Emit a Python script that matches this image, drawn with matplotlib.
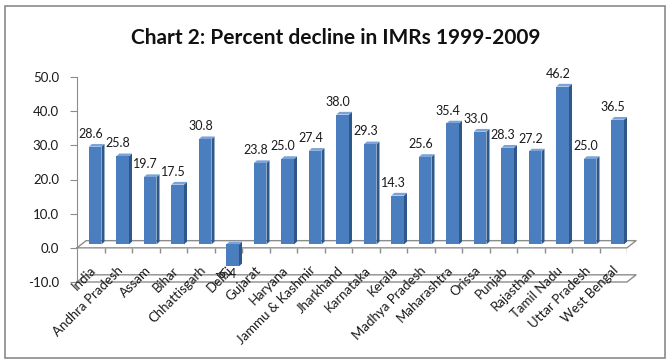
import matplotlib
matplotlib.use("Agg")
import matplotlib.pyplot as plt
from matplotlib.patches import Polygon, Rectangle

states = ["India", "Andhra Pradesh", "Assam", "Bihar", "Chhattisgarh", "Delhi",
          "Gujarat", "Haryana", "Jammu & Kashmir", "Jharkhand", "Karnataka",
          "Kerala", "Madhya Pradesh", "Maharashtra", "Orissa", "Punjab",
          "Rajasthan", "Tamil Nadu", "Uttar Pradesh", "West Bengal"]
decline = [28.6, 25.8, 19.7, 17.5, 30.8, -6.4, 23.8, 25.0, 27.4, 38.0, 29.3,
           14.3, 25.6, 35.4, 33.0, 28.3, 27.2, 46.2, 25.0, 36.5]
yticks = [-10, 0, 10, 20, 30, 40, 50]

FONT = "Lato"
FRONT, SIDE, TOP = "#4A7EBF", "#2D5889", "#7AA3D9"
GRID = "#8C8C8C"

# fake 3d: depth of the plane and of the bars (x in categories, y in data units)
DX, DY = 0.33, 2.1
BX, BY = 0.16, 1.0
BW = 0.46
SDX, SDY = 0.11, 0.8

fig = plt.figure(figsize=(6.72, 3.64), dpi=100)
fig.patches.append(Rectangle((5 / 672, 6 / 364), 660 / 672, 352 / 364,
                             transform=fig.transFigure, fill=False,
                             ec="#8A8A8A", lw=1.2))
fig.text(0.5, 1 - 38 / 364, "Chart 2: Percent decline in IMRs 1999-2009",
         ha="center", va="center", fontsize=15, fontweight="bold",
         family=FONT, color="#111111")

ax = fig.add_axes([77 / 672, 1 - 282 / 364, 550 / 672, 205 / 364])
n = len(states)
ax.set_xlim(-0.5, n - 0.5)
ax.set_ylim(-10, 50)
for s in ["top", "right", "bottom"]:
    ax.spines[s].set_visible(False)
ax.spines["left"].set_color(GRID)
ax.set_yticks(yticks)
ax.set_yticklabels([f"{t:.1f}" for t in yticks], family=FONT, fontsize=9.5,
                   color="#1a1a1a")
ax.tick_params(axis="y", length=5, color=GRID, pad=8)
ax.set_xticks([])

# 0 plane and floor
x0, x1 = -0.5, n - 0.5
for base in (0, -10):
    ax.plot([x0, x1, x1 + DX, x0 + DX, x0], [base, base, base + DY, base + DY, base],
            color=GRID, lw=1, clip_on=False, zorder=1)
ax.vlines([k + 0.5 for k in range(n)], -1.5, 0, color=GRID, lw=1, zorder=1)

# bars
xs = [i + BX for i in range(n)]
bars = ax.bar(xs, decline, width=BW, bottom=BY, color=FRONT, zorder=3)
for b in bars:
    bx0, by0 = b.get_x(), b.get_y()
    bx1, by1 = bx0 + b.get_width(), by0 + b.get_height()
    top = max(by0, by1)
    lo = min(by0, by1)
    ax.add_patch(Polygon([(bx1, lo), (bx1 + SDX, lo + SDY), (bx1 + SDX, top + SDY), (bx1, top)],
                         closed=True, fc=SIDE, ec="none", zorder=2))
    ax.add_patch(Polygon([(bx0, top), (bx1, top), (bx1 + SDX, top + SDY), (bx0 + SDX, top + SDY)],
                         closed=True, fc=TOP, ec="none", zorder=2))

# value labels
for i, v in enumerate(decline):
    if v >= 0:
        ax.text(i, v + BY + 2.0, f"{v:.1f}", ha="center", va="bottom",
                family=FONT, fontsize=9, color="#1a1a1a", zorder=4)
    else:
        ax.text(i - 0.1, v + BY - 0.6, f"{v:.1f}", ha="center", va="top",
                family=FONT, fontsize=9, color="#1a1a1a", zorder=4)

# category labels
for i, name in enumerate(states):
    ax.text(i + 0.1, -6.0, name, rotation=45, rotation_mode="anchor",
            ha="right", va="center", family=FONT, fontsize=9.5,
            color="#1a1a1a", zorder=5, clip_on=False)

fig.savefig("out.png", dpi=100)
